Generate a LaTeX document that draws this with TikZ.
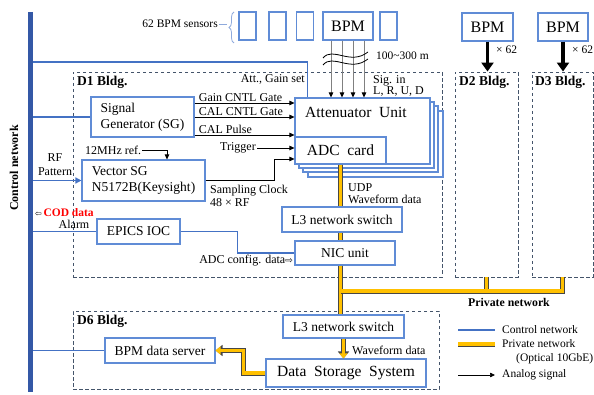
\documentclass[tikz,border=0pt]{standalone}
\usepackage{fontspec}
\setmainfont{Liberation Serif}
\newfontfamily\symbfont{DejaVu Sans}
\usetikzlibrary{arrows.meta,decorations.pathreplacing}

\definecolor{cnbar}{RGB}{52,88,166}
\definecolor{cnblue}{RGB}{68,114,196}
\definecolor{boxblue}{RGB}{96,140,214}
\definecolor{bldgline}{RGB}{68,84,106}
\definecolor{netyellow}{RGB}{255,192,0}
\definecolor{netedge}{RGB}{70,70,70}
\definecolor{bracecol}{RGB}{143,170,220}
\definecolor{codred}{RGB}{255,0,0}

\begin{document}
\begin{tikzpicture}[x=1pt,y=-1pt,
    box/.style={draw=boxblue, line width=1.1pt, fill=white, inner sep=0pt},
    bldg/.style={draw=bldgline, line width=0.9pt, dash pattern=on 3.5pt off 2.5pt, inner sep=0pt},
    cnet/.style={draw=cnblue, line width=1.8pt},
    pnet/.style={draw=netedge, line width=0.7pt, double=netyellow, double distance=3.6pt},
    pnetarrow/.style={draw=netyellow, line width=3.6pt, -{Triangle[length=5pt,width=8pt]},
        preaction={draw=netedge, line width=5pt, -{Triangle[length=7pt,width=11pt]}}},
    sig/.style={draw=black, line width=0.7pt, -{Triangle[length=5pt,width=4.5pt]}},
    bigtxt/.style={font=\fontsize{15.5}{17}\selectfont},
    boxtxt/.style={font=\fontsize{13.5}{16}\selectfont},
    lbl/.style={font=\fontsize{12}{13}\selectfont, inner sep=1pt},
    smalltxt/.style={font=\fontsize{11.5}{12.5}\selectfont, inner sep=1pt},
    bldglbl/.style={font=\fontsize{13.5}{15}\selectfont\bfseries, inner sep=0pt}]
\useasboundingbox (0,0) rectangle (594,395);

% buildings
\node[bldg, minimum width=369, minimum height=205] (d1) at (257.5,174.5) {};
\node[bldg, minimum width=63, minimum height=205] (d2) at (486.5,174.5) {};
\node[bldg, minimum width=61, minimum height=205] (d3) at (562.5,174.5) {};
\node[bldg, minimum width=366, minimum height=78] (d6) at (256,350) {};
\node[bldglbl, anchor=north west] (d1lbl) at (77,76) {D1 Bldg.};
\node[bldglbl, anchor=north west] (d2lbl) at (459,76) {D2 Bldg.};
\node[bldglbl, anchor=north west] (d3lbl) at (535,76) {D3 Bldg.};
\node[bldglbl, anchor=north west] (d6lbl) at (77,315) {D6 Bldg.};

% BPM sensors along the ring
\foreach \x/\n in {247.5/s1, 277.5/s2, 305/s3, 388.5/s5}
    \node[box, minimum width=17, minimum height=28] (\n) at (\x,26) {};
\node[box, minimum width=50, minimum height=28, font=\fontsize{16}{18}\selectfont] (bpm) at (348,26) {BPM};
\node[box, minimum width=51, minimum height=28, font=\fontsize{16}{18}\selectfont] (bpm2) at (487.5,27) {BPM};
\node[box, minimum width=50, minimum height=28, font=\fontsize{16}{18}\selectfont] (bpm3) at (563,27) {BPM};
\node[smalltxt, anchor=east] (senslbl) at (219,24) {62 BPM sensors};
\draw[bracecol, line width=0.7pt] (senslbl.east) -- ++(8,0);
\draw[bracecol, line width=0.8pt, decorate, decoration={brace, amplitude=5pt}] (234,43) -- (234,12);

% D1 boxes
\node[box, boxtxt, minimum width=103, minimum height=40, align=left] (sg) at (142.5,117) {Signal\\Generator (SG)};
\node[box, boxtxt, minimum width=123, minimum height=41, align=left] (vsg) at (143.5,180.5) {Vector SG\\N5172B(Keysight)};
\node[box, boxtxt, minimum width=83, minimum height=25] (epics) at (138.5,231.5) {EPICS IOC};
\foreach \d in {13,8,4}
    \draw[draw=boxblue, line width=1.1pt, fill=white] (295+\d,98+\d) rectangle (430+\d,164+\d);
\node[box, minimum width=135, minimum height=66] (att) at (362.5,131) {};
\node[bigtxt, anchor=west, inner sep=0pt] (attlbl) at (305,112) {Attenuator~~Unit};
\node[box, bigtxt, minimum width=91, minimum height=27] (adc) at (340.5,150.5) {ADC~~card};
\node[box, boxtxt, minimum width=120, minimum height=25] (l3a) at (342,219.5) {L3 network switch};
\node[box, boxtxt, minimum width=100, minimum height=24] (nic) at (345,253) {NIC unit};

% D6 boxes
\node[box, boxtxt, minimum width=121, minimum height=23] (l3b) at (343.5,326.5) {L3 network switch};
\node[box, bigtxt, minimum width=160, minimum height=28] (dss) at (346,373) {Data~~Storage~~System};
\node[box, boxtxt, minimum width=110, minimum height=25] (srv) at (160,350.5) {BPM data server};

% analog signals from the BPMs
\foreach \dx in {-17,-6,5,16}
    \draw[draw=gray, line width=0.8pt, -{Triangle[length=5pt,width=4.5pt,fill=black,color=black]}]
        ([xshift=\dx pt]bpm.south) -- ([xshift=\dx pt]bpm.south |- att.north);
\draw[black, line width=0.8pt] (323,58) .. controls (333,46) and (350,66) .. (368,52);
\draw[black, line width=0.8pt] (323,65) .. controls (333,53) and (350,73) .. (368,59);
\node[smalltxt, anchor=west] (dist) at (375,56) {100\textasciitilde300 m};
\node[lbl, anchor=west, align=left, font=\fontsize{12}{11}\selectfont] (sigin) at (372,85.5) {Sig. in\\L, R, U, D};
\draw[line width=3.5pt, -{Triangle[length=9pt,width=12pt]}] (bpm2.south) -- (bpm2.south |- d2.north);
\draw[line width=3.5pt, -{Triangle[length=9pt,width=12pt]}] (bpm3.south) -- (bpm3.south |- d3.north);
\node[smalltxt, anchor=west] (n2) at (495,50) {× 62};
\node[smalltxt, anchor=west] (n3) at (571,50) {× 62};

% timing and control signals
\coordinate (gcg) at ([yshift=14pt]sg.east);
\coordinate (ccg) at (sg.east);
\coordinate (cpl) at ([yshift=-18pt]sg.east);
\draw[sig] (gcg) -- (gcg -| att.west) node[lbl, pos=0, anchor=south west, xshift=3pt] {Gain CNTL Gate};
\draw[sig] (ccg) -- (ccg -| att.west) node[lbl, pos=0, anchor=south west, xshift=3pt] {CAL CNTL Gate};
\draw[sig] (cpl) -- (cpl -| att.west) node[lbl, pos=0, anchor=south west, xshift=3pt] {CAL Pulse};
\node[lbl, anchor=east] (trig) at (257,148) {Trigger};
\draw[sig] (trig.east) -- (trig.east -| att.west);
\node[lbl, anchor=west] (mhz) at (84,150) {12MHz ref.};
\draw[sig] (mhz.east) -| ([xshift=23.5pt]vsg.north);
\draw[sig] (vsg.east) -- ++(69,0) |- ([yshift=-28pt]att.west);
\node[lbl, anchor=west, align=left] (sclk) at (209,196) {Sampling Clock\\48 × RF};

% control network
\coordinate (cntop) at (30.5,12);
\coordinate (cnbot) at (30.5,392);
\coordinate (tap) at (30.5,62);
\coordinate (attset) at ([xshift=13pt]att.north west);
\draw[cnet] (tap) -| (attset);
\node[lbl, anchor=east] (gset) at (306,79) {Att., Gain set};
\draw[cnet] (sg.west -| cntop) -- (sg.west);
\draw[cnet, -{Triangle[length=6pt,width=6pt]}] (vsg.west -| cntop) -- (vsg.west);
\node[lbl, align=center, font=\fontsize{12}{14}\selectfont] (rfp) at (55,165) {RF\\Pattern};
\draw[cnet] (epics.west -| cntop) -- (epics.west);
\draw[cnet] (epics.east) -- ++(57,0) |- (nic.west);
\draw[cnet, line width=1.3pt] (srv.west -| cntop) -- (srv.west);
\draw[draw=cnbar, line width=5pt] (cntop) -- (cnbot);
\node[rotate=90, font=\fontsize{12}{13}\selectfont\bfseries] (cnlbl) at (14,168) {Control network};
\node[anchor=west, inner sep=0pt] (cod) at (35,213)
    {{\symbfont\fontsize{8}{8}\selectfont ⇦}\,{\color{codred}\bfseries\fontsize{11.5}{12}\selectfont COD data}};
\node[lbl] (alarm) at (74,224) {Alarm};
\node[lbl, anchor=east] (cfg) at (294,261) {ADC config. data{\symbfont\fontsize{9}{9}\selectfont ⇨}};

% private network
\coordinate (bus) at (341,291);
\draw[pnet] (adc.south) -- (adc.south |- l3a.north);
\draw[pnet] (adc.south |- l3a.south) -- (adc.south |- nic.north);
\draw[pnet] (adc.south |- nic.south) -- (adc.south |- l3b.north);
\draw[pnet] (d2.south) -- (d2.south |- bus);
\draw[pnet] (adc.south |- bus) -| (d3.south);
\node[lbl, anchor=west, align=left, font=\fontsize{12}{11.5}\selectfont] (udp) at (347,193.5) {UDP\\Waveform data};
\node[font=\fontsize{11.8}{13}\selectfont\bfseries] (pnlbl) at (509,302) {Private network};
\draw[pnetarrow] (l3b.south) -- (l3b.south |- dss.north);
\node[lbl, anchor=west] (wfd) at (351,350) {Waveform data};
\draw[pnetarrow] (dss.west) -- ++(-22,0) |- (srv.east);

% legend
\node[smalltxt, anchor=west] (lgc) at (501,330) {Control network};
\node[smalltxt, anchor=west] (lgp) at (501,344) {Private network};
\node[smalltxt, anchor=west] (lgo) at (515,359) {(Optical 10GbE)};
\node[smalltxt, anchor=west] (lga) at (501,375) {Analog signal};
\draw[cnet, line width=1.4pt] ([xshift=-43pt]lgc.west) -- ([xshift=-6pt]lgc.west);
\draw[pnet] ([xshift=-43pt]lgp.west) -- ([xshift=-6pt]lgp.west);
\draw[sig] ([xshift=-43pt]lga.west) -- ([xshift=-6pt]lga.west);
\end{tikzpicture}
\end{document}
